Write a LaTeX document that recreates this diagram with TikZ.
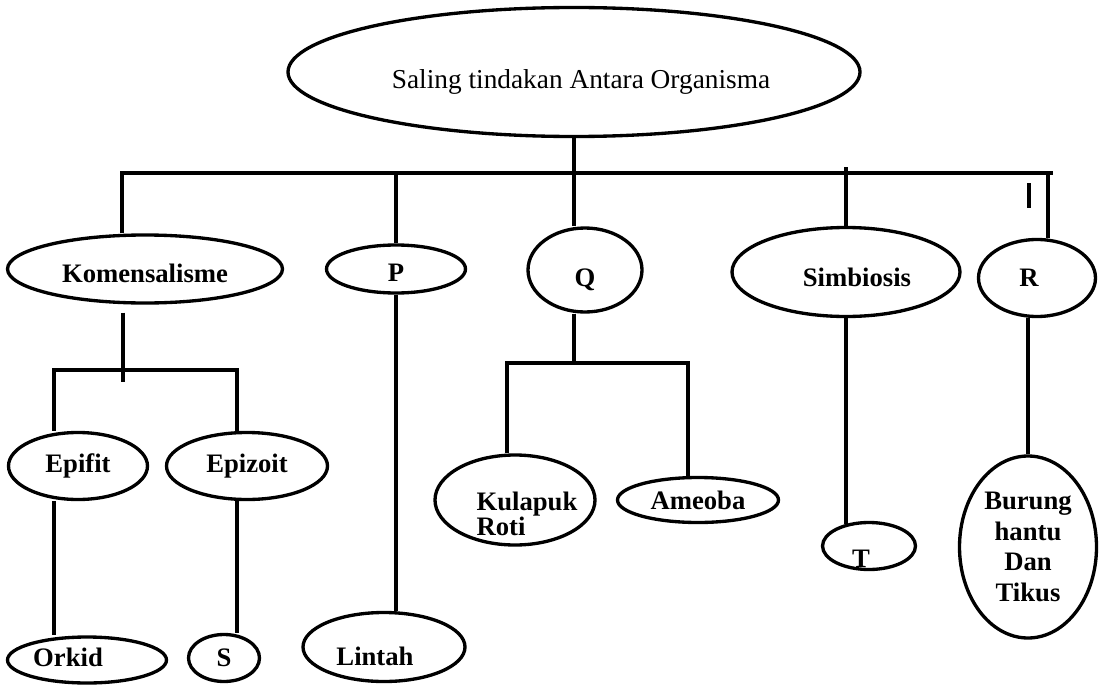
\documentclass[tikz,border=0pt]{standalone}
\usepackage{fontspec}
\setmainfont{Liberation Serif}
\usetikzlibrary{shapes.geometric,calc}
\tikzset{
  oval/.style 2 args={ellipse,draw,line width=2.5pt,inner sep=0pt,
                 minimum width=#1*0.75pt,minimum height=#2*0.75pt,
                 font=\fontsize{20}{23}\selectfont\bfseries,align=center},
  lbl/.style={inner sep=0pt,font=\fontsize{20}{23}\selectfont\bfseries,align=left},
  titleTxt/.style={inner sep=0pt,font=\fontsize{20.5}{24}\selectfont},
  link/.style={line width=2.6pt},
}

\begin{document}
\begin{tikzpicture}[x=0.75pt,y=-0.75pt]
\useasboundingbox (0,0) rectangle (1099,685);

% Root of the tree.
\node[oval={572}{129}] (root) at (574,72) {};
\node[titleTxt] (rootTxt) at (581,82) {Saling tindakan Antara Organisma};

% First level.
\node[oval={275}{68}] (komen) at (145,269) {};
\node[lbl] (komenTxt) at (145,273) {Komensalisme};
\node[oval={139}{48}] (p)     at (396,269) {};
\node[lbl] (pTxt) at (396,273) {P};
\node[oval={114}{84}] (q)     at (585,270) {};
\node[lbl] (qTxt) at (585,280) {Q};
\node[oval={228}{89}] (simb)  at (846,272) {};
\node[lbl] (simbTxt) at (857,277) {Simbiosis};
\node[oval={117}{77}] (r)     at (1037,278) {};
\node[lbl] (rTxt) at (1029,278) {R};

% Second level.
\node[oval={139}{67}] (epifit)  at (78,466)  {Epifit};
\node[oval={161}{67}] (epizoit) at (247,466) {Epizoit};
\node[oval={160}{90}] (kulapuk) at (515,500) {};
\node[lbl,font=\fontsize{20}{19}\selectfont\bfseries] (kulapukTxt) at (527,514) {Kulapuk\\Roti};
\node[oval={161}{45}] (ameoba)  at (698,500) {Ameoba};
\node[oval={93}{47}]  (t)       at (869,546) {};
\node[lbl] (tTxt) at (861,559) {T};
\node[oval={137}{182}] (burung) at (1028,547) {Burung\\hantu\\Dan\\Tikus};

% Bottom row.
\node[oval={159}{46}] (orkid)  at (87,660)  {};
\node[lbl] (orkidTxt) at (68,657) {Orkid};
\node[oval={71}{47}]  (s)      at (224,658) {S};
\node[oval={162}{69}] (lintah) at (384,647) {};
\node[lbl] (lintahTxt) at (375,656) {Lintah};

% Main bar under the root.
\coordinate (barL)    at (122,173);
\coordinate (barR)    at (1053,173);
\coordinate (simbTop) at (846,167);
\coordinate (rJoin)   at (1048,173);
\coordinate (tick)    at (1029,183);
\draw[link] (root.south) -- (root.south |- barL);
\draw[link] (barL |- komen.north) -- (barL) -- (barR);
\draw[link] (p.north |- barL) -- (p.north);
\draw[link] (root.south |- barL) -- (root.south |- q.north);
\draw[link] (simbTop) -- (simb.north);
\draw[link] (rJoin) -- (rJoin |- r.north);
\draw[link] (tick) -- ++(0,25);

% Komensalisme branch.
\coordinate (komJoin) at (123,370);
\coordinate (komL)    at (54,370);
\coordinate (komR)    at (237,370);
\draw[link] ($(komJoin |- komen.south)+(0,8)$) -- ($(komJoin)+(0,12)$);
\draw[link] (komL |- epifit.north) -- (komL) -- (komR) -- (komR |- epizoit.north);
\draw[link] (komL |- epifit.south) -- (komL |- orkid.north);
\draw[link] (komR |- epizoit.south) -- (komR |- s.north);

% P, Q, Simbiosis and R branches.
\draw[link] (p.south) -- (p.south |- lintah.north);
\coordinate (qL) at (507,363);
\coordinate (qR) at (688,363);
\draw[link] (root.south |- q.south) -- (root.south |- qL);
\draw[link] (qL |- kulapuk.north) -- (qL) -- (qR) -- (qR |- ameoba.north);
\draw[link] (simb.south) -- ($(simb.south |- t.north)+(0,3)$);
\draw[link] (burung.north |- r.south) -- (burung.north);

\end{tikzpicture}
\end{document}
